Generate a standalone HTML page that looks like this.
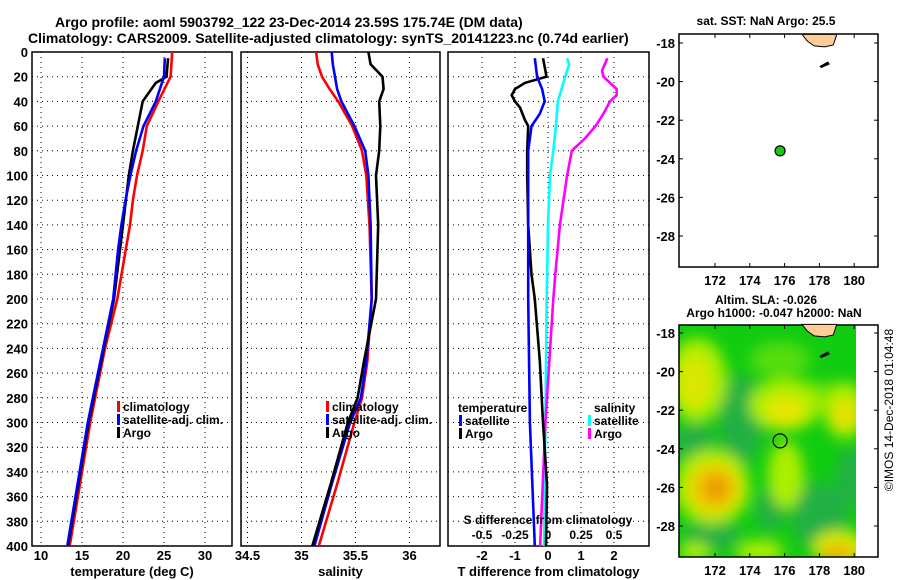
<!DOCTYPE html>
<html><head><meta charset="utf-8"><style>
html,body{margin:0;padding:0;background:#fff;}
svg{display:block;font-family:"Liberation Sans",Arial,sans-serif;font-weight:bold;}
</style></head><body>
<svg id="chart" width="900" height="580" viewBox="0 0 900 580" xmlns="http://www.w3.org/2000/svg">
<defs>
<clipPath id="c1"><rect x="32" y="52" width="200" height="494"/></clipPath>
<clipPath id="c2"><rect x="241" y="52" width="199" height="494"/></clipPath>
<clipPath id="c3"><rect x="448" y="52" width="201" height="494"/></clipPath>
<clipPath id="cm2"><rect x="679" y="325" width="177" height="232"/></clipPath>
<filter id="blur" x="-50%" y="-50%" width="200%" height="200%"><feGaussianBlur stdDeviation="7"/></filter>
</defs>
<text x="55" y="27" font-size="14">Argo profile: aoml 5903792_122 23-Dec-2014 23.59S 175.74E (DM data)</text>
<text x="28" y="43" font-size="14">Climatology: CARS2009. Satellite-adjusted climatology: synTS_20141223.nc (0.74d earlier)</text>
<g id="p1"></g>
<g id="p2"></g>
<g id="p3"></g>
<g id="m1"></g>
<g id="m2"></g>
<text transform="translate(893,410) rotate(-90)" text-anchor="middle" font-size="12" font-weight="normal">©IMOS 14-Dec-2018 01:04:48</text>
</svg>
<script>
const depthTicks=[0,20,40,60,80,100,120,140,160,180,200,220,240,260,280,300,320,340,360,380,400];
const tempTicks=[10,15,20,25,30];
const salTicks=[34.5,35,35.5,36];
const salTickLabels=["34.5","35","35.5","36"];
const tdiffTicks=[-2,-1,0,1,2];
const sdiffTicks=[-0.5,-0.25,0,0.25,0.5];
const sdiffLabels=["-0.5","-0.25","0","0.25","0.5"];

const climTDepth=[0,20,40,60,80,100,120,140,200,240,300,360,400];
const climT=[26.0,25.8,24.3,22.9,22.4,21.7,21.2,20.85,19.3,17.8,16.0,14.5,13.5];
const satTDepth=[5,20,40,60,80,100,120,140,160,200,300,400];
const satT=[25.1,25.0,24.0,22.5,21.6,20.9,20.3,19.8,19.4,18.8,15.7,13.2];
const argoTDepth=[5,20,25,40,60,80,100,140,200,300,400];
const argoT=[25.5,25.3,24.0,22.4,21.8,21.2,20.7,20.0,18.9,15.8,13.3];

const salDepth=[0,10,20,30,40,60,80,100,140,200,250,280,300,350,400];
const climS=[35.135,35.15,35.19,35.26,35.34,35.47,35.56,35.6,35.63,35.65,35.61,35.56,35.49,35.33,35.16];
const satS=[35.28,35.29,35.31,35.33,35.37,35.49,35.59,35.62,35.64,35.65,35.6,35.55,35.45,35.28,35.12];
const argoS=[35.62,35.64,35.75,35.76,35.72,35.73,35.72,35.69,35.71,35.69,35.58,35.52,35.43,35.27,35.1];

const tdSatDepth=[5,20,30,40,50,60,80,100,200,300,400];
const tdSat=[-0.4,-0.33,-0.18,-0.1,-0.25,-0.5,-0.6,-0.6,-0.6,-0.55,-0.4];
const tdArgoDepth=[5,15,20,25,30,35,40,45,55,60,80,100,140,180,200,250,300,350,400];
const tdArgo=[-0.15,-0.08,-0.05,-0.7,-1.0,-1.1,-1.0,-0.85,-0.7,-0.6,-0.63,-0.63,-0.6,-0.5,-0.4,-0.25,-0.15,-0.03,-0.06];
const sdSatDepth=[5,10,20,40,60,80,100,140,200,300,400];
const sdSat=[0.145,0.16,0.13,0.075,0.06,0.04,0.015,0.0,-0.01,-0.02,-0.03];
const sdArgoDepth=[5,15,20,30,35,40,50,60,70,80,100,140,180,200,300,400];
const sdArgo=[0.45,0.41,0.42,0.52,0.52,0.47,0.42,0.36,0.28,0.18,0.145,0.09,0.055,0.04,-0.02,-0.06];

const latTicks=[-18,-20,-22,-24,-26,-28];
const lonTicks=[172,174,176,178,180];
const argoLon=175.74, argoLat=-23.59;

const NS="http://www.w3.org/2000/svg";
function mk(parent,tag,attrs){const e=document.createElementNS(NS,tag);for(const k in attrs)e.setAttribute(k,attrs[k]);parent.appendChild(e);return e;}
const PT=52,PB=546;
const yD=d=>PT+(d/400)*(PB-PT);
const xT=v=>32+(v-8.9)*8.2;
const xS=v=>241+(v-34.44)*108;
const xTd=v=>548+v*33;
const xSd=v=>548+v*132;

function panel(g,x0,x1,clip,ticks,xf,labels,xlabel,showY){
  for(const d of depthTicks){const y=yD(d);
    const l=mk(g,'line',{x1:x0,x2:x1,y1:y,y2:y,stroke:'#000','stroke-width':1,'stroke-dasharray':'1,4'});
    
    if(showY){const t=mk(g,'text',{x:28,y:y+5,'text-anchor':'end','font-size':13});t.textContent=d;
      }
  }
  ticks.forEach((v,i)=>{const x=xf(v);
    const l=mk(g,'line',{x1:x,x2:x,y1:PT,y2:PB,stroke:'#000','stroke-width':1,'stroke-dasharray':'1,4'});
    
    if(labels){const t=mk(g,'text',{x:x,y:560,'text-anchor':'middle','font-size':13});t.textContent=labels[i];
      }
  });
  const r=mk(g,'rect',{x:x0,y:PT,width:x1-x0,height:PB-PT,fill:'none',stroke:'#000','stroke-width':1.5});
  
  const t=mk(g,'text',{x:(x0+x1)/2,y:576,'text-anchor':'middle','font-size':13});t.textContent=xlabel;
  
}
function series(g,clip,depths,vals,xf,color,name){
  const pts=depths.map((d,i)=>xf(vals[i]).toFixed(1)+','+yD(d).toFixed(1)).join(' ');
  const p=mk(g,'polyline',{points:pts,fill:'none',stroke:color,'stroke-width':2.6,'clip-path':'url(#'+clip+')'});
  
}
function legend(g,x,y,items){
  items.forEach((it,i)=>{const yy=y+i*13;
    const m=mk(g,'rect',{x:x,y:yy-10,width:3,height:11,fill:it[1]});
    
    const t=mk(g,'text',{x:x+6,y:yy,'font-size':12});t.textContent=it[0];
    
  });
}
const p1=document.getElementById('p1'),p2=document.getElementById('p2'),p3=document.getElementById('p3');
panel(p1,32,232,'c1',tempTicks,xT,tempTicks.map(String),'temperature (deg C)',true);
series(p1,'c1',climTDepth,climT,xT,'#f00','climatology-temperature-line');
series(p1,'c1',argoTDepth,argoT,xT,'#000','argo-temperature-line');
series(p1,'c1',satTDepth,satT,xT,'#00f','satellite-temperature-line');
legend(p1,117,411,[['climatology','#f00'],['satellite-adj. clim.','#00f'],['Argo','#000']]);

panel(p2,241,440,'c2',salTicks,xS,salTickLabels,'salinity',false);
series(p2,'c2',salDepth,climS,xS,'#f00','climatology-salinity-line');
series(p2,'c2',salDepth,satS,xS,'#00f','satellite-salinity-line');
series(p2,'c2',salDepth,argoS,xS,'#000','argo-salinity-line');
legend(p2,326,411,[['climatology','#f00'],['satellite-adj. clim.','#00f'],['Argo','#000']]);

panel(p3,448,649,'c3',tdiffTicks,xTd,tdiffTicks.map(String),'T difference from climatology',false);
series(p3,'c3',sdSatDepth,sdSat,xSd,'#0ff','salinity-satellite-diff-line');
series(p3,'c3',sdArgoDepth,sdArgo,xSd,'#f0f','salinity-argo-diff-line');
series(p3,'c3',tdArgoDepth,tdArgo,xTd,'#000','temperature-argo-diff-line');
series(p3,'c3',tdSatDepth,tdSat,xTd,'#00f','temperature-satellite-diff-line');
{const t=mk(p3,'text',{x:458,y:412,'font-size':12});t.textContent='temperature';
 const s=mk(p3,'text',{x:594,y:412,'font-size':12});s.textContent='salinity';}
legend(p3,459,425,[['satellite','#00f'],['Argo','#000']]);
legend(p3,588,425,[['satellite','#0ff'],['Argo','#f0f']]);
{const t=mk(p3,'text',{x:548,y:524,'text-anchor':'middle','font-size':12});t.textContent='S difference from climatology';
 
 sdiffTicks.forEach((v,i)=>{const l=mk(p3,'text',{x:xSd(v),y:539,'text-anchor':'middle','font-size':12});l.textContent=sdiffLabels[i];
  });}

// maps
const mx=lon=>715+(lon-172)*17.4;
function mapFrame(g,top,bottom,y18,title,title2){
  const my=lat=>y18+(-18-lat)*19.3;
  const r=mk(g,'rect',{x:679,y:top,width:199,height:bottom-top,fill:'none',stroke:'#000','stroke-width':1.5});
  
  for(const la of latTicks){const y=my(la);
    mk(g,'line',{x1:679,x2:683,y1:y,y2:y,stroke:'#000'});
    mk(g,'line',{x1:874,x2:878,y1:y,y2:y,stroke:'#000'});
    const t=mk(g,'text',{x:675,y:y+5,'text-anchor':'end','font-size':13});t.textContent=la;
    }
  for(const lo of lonTicks){const x=mx(lo);
    mk(g,'line',{x1:x,x2:x,y1:top,y2:top+4,stroke:'#000'});
    mk(g,'line',{x1:x,x2:x,y1:bottom-4,y2:bottom,stroke:'#000'});
    const t=mk(g,'text',{x:x,y:bottom+18,'text-anchor':'middle','font-size':13});t.textContent=lo;
    }
  const t=mk(g,'text',{x:766,y:title2?top-21:top-9,'text-anchor':'middle','font-size':12});t.textContent=title;
  
  if(title2){const t2=mk(g,'text',{x:774,y:top-8,'text-anchor':'middle','font-size':12});t2.textContent=title2;
    }
  return my;
}
function land(g,my){
  const p=mk(g,'polygon',{points:[[177.0,-17.55],[179.0,-17.55],[178.8,-18.1],[178.3,-18.2],[177.7,-18.15],[177.3,-17.9]].map(a=>mx(a[0])+','+my(a[1])).join(' '),fill:'#fc9',stroke:'#000','stroke-width':1});
  
  const q=mk(g,'polygon',{points:[[178.0,-19.2],[178.5,-18.95],[178.6,-19.1],[178.1,-19.3]].map(a=>mx(a[0])+','+my(a[1])).join(' '),fill:'#000'});
  
}
const m1=document.getElementById('m1'),m2=document.getElementById('m2');
const my1=mapFrame(m1,34,267,43,'sat. SST: NaN Argo: 25.5');
land(m1,my1);
{const c=mk(m1,'circle',{cx:mx(argoLon),cy:my1(argoLat),r:5,fill:'#1c1',stroke:'#000','stroke-width':1.2});
 }

// heat map
const hm=mk(m2,'g',{'clip-path':'url(#cm2)'});

mk(hm,'rect',{x:679,y:325,width:177,height:232,fill:'#11cc11'});
const bl=mk(hm,'g',{filter:'url(#blur)'});
const blobs=[
 [800,395,60,14,'#55dd11'],[780,360,30,18,'#55dd11'],
 [741,420,22,45,'#22b044'],[695,445,20,22,'#22b044'],[819,516,28,34,'#22b044'],[850,478,14,30,'#22b044'],[770,510,14,22,'#22b044'],[712,535,28,14,'#22b044'],
 [697,380,30,42,'#aaee00'],[695,382,16,26,'#dde600'],[785,405,36,26,'#aaee00'],[785,410,20,14,'#e6e600'],
 [845,410,22,28,'#aaee00'],[845,414,11,15,'#eedd00'],[712,487,38,38,'#aaee00'],[714,488,26,26,'#eed000'],[716,488,14,14,'#ee9900'],
 [786,475,18,34,'#aaee00'],[840,548,28,18,'#ccee00'],[838,552,18,10,'#eec000'],[838,555,8,5,'#ee9900'],[760,552,24,12,'#aaee00'],[695,552,16,10,'#aaee00']];
for(const b of blobs){const e=mk(bl,'ellipse',{cx:b[0],cy:b[1],rx:b[2],ry:b[3],fill:b[4]});
 }
const my2=mapFrame(m2,325,557,333,'Altim. SLA: -0.026','Argo h1000: -0.047 h2000: NaN');
land(m2,my2);
{const c=mk(m2,'circle',{cx:mx(argoLon),cy:my2(argoLat),r:7,fill:'none',stroke:'#000','stroke-width':1.2});
 }
</script>
</body></html>
